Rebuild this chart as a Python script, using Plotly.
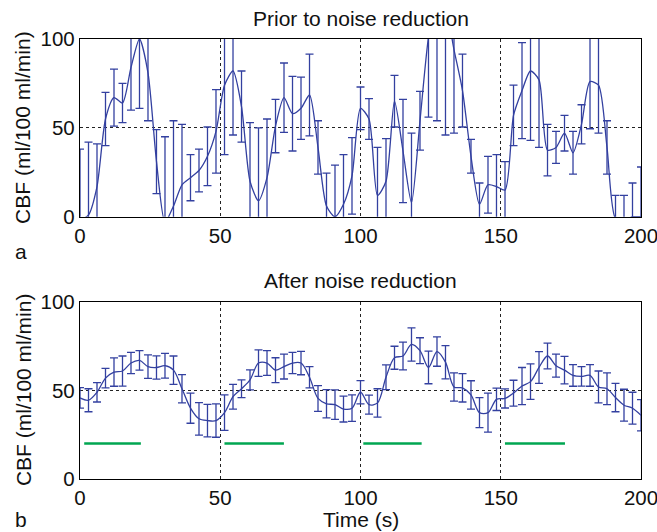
import plotly.graph_objects as go

# Time grid (s)
time_s = [0.00, 3.03, 6.06, 9.09, 12.12, 15.15, 18.18, 21.21, 24.24, 27.27,
          30.30, 33.33, 36.36, 39.39, 42.42, 45.45, 48.48, 51.52, 54.55, 57.58,
          60.61, 63.64, 66.67, 69.70, 72.73, 75.76, 78.79, 81.82, 84.85, 87.88,
          90.91, 93.94, 96.97, 100.00, 103.03, 106.06, 109.09, 112.12, 115.15, 118.18,
          121.21, 124.24, 127.27, 130.30, 133.33, 136.36, 139.39, 142.42, 145.45, 148.48,
          151.52, 154.55, 157.58, 160.61, 163.64, 166.67, 169.70, 172.73, 175.76, 178.79,
          181.82, 184.85, 187.88, 190.91, 193.94, 196.97, 200.00]

# Panel a: prior to noise reduction
cbf_raw = [-2, 1, 17, 55, 67, 64, 84, 100, 81, 31,
           -3, 6, 18, 22, 26, 34, 48, 74, 82, 62,
           20, 9, 22, 51, 67, 58, 61, 68.5, 39, 6,
           0, 7, 23, 61, 55, 12, 20, 65, 37, 8,
           54, 101, 125, 118, 94, 71, 34, 7, 18, 17,
           15, 57, 71, 82, 77, 37.5, 39, 47, 36, 52,
           76, 74, 39, -1, -2, 0, 0]
err_raw = [40, 41, 24, 15, 16, 11, 24, 39, 27, 18,
           48, 48, 34, 13, 12, 16.5, 23.5, 39, 36, 20,
           33, 41, 33, 15, 19.5, 21, 17.5, 23, 15, 18.5,
           29, 28, 21.5, 12, 11.5, 27, 24, 14.5, 29, 39,
           16.5, 45, 71, 72, 47, 20.5, 9.5, 12, 16, 18,
           16, 17, 27, 39, 38, 14.5, 9, 10, 12, 11,
           26.5, 27, 15, 13, 14, 19, 28]

# Panel b: after noise reduction
cbf_nr = [45.8, 44.5, 49, 57, 60.4, 61, 65.5, 67, 63.5, 63,
          64, 61.5, 51, 40, 34, 33, 33, 37.5, 46.5, 51,
          56, 65.5, 65.5, 61.5, 63.5, 65.5, 65.5, 57.5, 45.5, 42.5,
          42, 39.5, 40, 49, 42, 43, 57.5, 68.5, 69.5, 76,
          72.5, 63, 72, 66, 52, 51.5, 47.5, 37.5, 37.5, 45,
          45.5, 48.5, 52.5, 55, 63, 69.5, 64, 61.5, 58.5, 58,
          58.5, 52, 51, 46, 41.7, 40, 36]
err_nr = [5.8, 6.5, 5.5, 5.5, 8, 8.5, 6, 5.5, 6.6, 6.6,
          7, 8, 8, 8.5, 9.2, 9.2, 9.4, 10, 7, 5,
          5.6, 7.5, 7, 7, 7, 6, 6.6, 6, 7.3, 8,
          8.3, 7.3, 7.5, 6.6, 5.4, 8, 7, 6.5, 7.8, 9.4,
          7.3, 9.2, 8.3, 9.4, 8, 8, 8, 8.5, 11, 6.3,
          5.4, 7.3, 10.5, 10, 9, 7.3, 6.5, 7.8, 6.1, 5.5,
          6.1, 9, 9, 8, 9, 9, 8.8]

# Stimulation blocks (green bars)
stim_start = [1.5, 51.5, 101.0, 151.5]
stim_end = [21.7, 72.7, 121.8, 172.9]
stim_level = 20

x_ticks = [0, 50, 100, 150, 200]
y_ticks = [0, 50, 100]

BLUE = "#3340a0"
GREEN = "#00a651"
FONT = "Liberation Sans, Arial, Helvetica, sans-serif"

fig = go.Figure()

fig.add_trace(go.Scatter(
    x=time_s, y=cbf_raw, mode="lines",
    line=dict(color=BLUE, width=1.3, shape="spline", smoothing=0.7),
    error_y=dict(type="data", array=err_raw, visible=True, color=BLUE,
                 thickness=1.3, width=4),
    xaxis="x", yaxis="y", showlegend=False, hoverinfo="skip"))

fig.add_trace(go.Scatter(
    x=time_s, y=cbf_nr, mode="lines",
    line=dict(color=BLUE, width=1.3, shape="spline", smoothing=0.9),
    error_y=dict(type="data", array=err_nr, visible=True, color=BLUE,
                 thickness=1.3, width=4),
    xaxis="x2", yaxis="y2", showlegend=False, hoverinfo="skip"))

for s, e in zip(stim_start, stim_end):
    fig.add_trace(go.Scatter(
        x=[s, e], y=[stim_level, stim_level], mode="lines",
        line=dict(color=GREEN, width=2.5),
        xaxis="x2", yaxis="y2", showlegend=False, hoverinfo="skip"))

axis_common = dict(
    showline=True, linecolor="black", linewidth=1.3, mirror=True,
    ticks="", showgrid=True, gridcolor="#222222", gridwidth=1, griddash="dot",
    zeroline=False, tickfont=dict(family=FONT, size=20.5, color="#111111"),
    ticklabelstandoff=0, ticklabeloverflow="allow", automargin=False,
)

fig.update_layout(
    width=657, height=532,
    margin=dict(l=80, r=16, t=39, b=53, autoexpand=False),
    paper_bgcolor="white", plot_bgcolor="white",
    font=dict(family=FONT, size=21, color="#111111"),
    xaxis=dict(domain=[0, 1], range=[0, 200], tickvals=x_ticks, anchor="y", **axis_common),
    yaxis=dict(domain=[0.596, 1], range=[0, 100], tickvals=y_ticks, anchor="x", **axis_common),
    xaxis2=dict(domain=[0, 1], range=[0, 200], tickvals=x_ticks, anchor="y2", **axis_common),
    yaxis2=dict(domain=[0, 0.4023], range=[0, 100], tickvals=y_ticks, anchor="x2", **axis_common),
)

ann = [
    dict(text="Prior to noise reduction", x=0.5, y=1.046, xanchor="center", yanchor="middle"),
    dict(text="After noise reduction", x=0.5, y=0.451, xanchor="center", yanchor="middle"),
    dict(text="Time (s)", x=0.5, y=-0.091, xanchor="center", yanchor="middle"),
    dict(text="a", x=-0.105, y=0.516, xanchor="center", yanchor="middle"),
    dict(text="b", x=-0.105, y=-0.093, xanchor="center", yanchor="middle"),
    dict(text="CBF (ml/100 ml/min)", x=-0.1016, y=0.798, xanchor="center",
         yanchor="middle", textangle=-90),
    dict(text="CBF (ml/100 ml/min)", x=-0.1016, y=0.202, xanchor="center",
         yanchor="middle", textangle=-90),
]
for a in ann:
    fig.add_annotation(xref="paper", yref="paper", showarrow=False,
                       font=dict(family=FONT, size=21, color="#111111"), **a)

fig.write_html("out.html",
               config={"displayModeBar": False},
               post_script="document.body.style.margin='0';document.body.style.padding='0';")
